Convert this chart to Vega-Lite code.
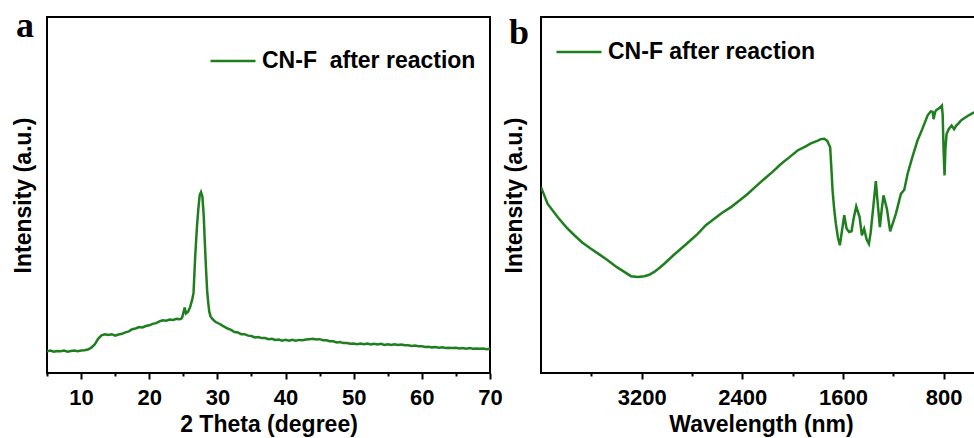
{
  "$schema": "https://vega.github.io/schema/vega-lite/v6.json",
  "background": "white",
  "padding": {"left": 11, "top": 7, "right": 0, "bottom": 0},
  "spacing": 51,
  "bounds": "flush",
  "config": {
    "view": {"stroke": "black", "strokeWidth": 2},
    "font": "Liberation Sans",
    "axis": {
      "domain": false, "grid": false,
      "tickColor": "black", "tickWidth": 2,
      "labelFont": "Liberation Sans", "labelFontWeight": "bold", "labelFontSize": 22, "labelColor": "black",
      "titleFont": "Liberation Sans", "titleFontWeight": "bold", "titleFontSize": 23, "titleColor": "black"
    },
    "legend": {
      "labelFont": "Liberation Sans", "labelFontWeight": "bold", "labelFontSize": 23, "labelColor": "black",
      "symbolType": "stroke", "symbolSize": 2025, "symbolStrokeWidth": 2.5, "labelOffset": 5, "padding": 0, "labelLimit": 400, "title": null
    }
  },
  "resolve": {"scale": {"color": "independent"}, "legend": {"color": "independent"}},
  "hconcat": [
    {
      "width": 443, "height": 356,
      "encoding": {
        "x": {"field": "t", "type": "quantitative", "scale": {"domain": [5, 70], "nice": false, "zero": false},
          "axis": {"title": "2 Theta (degree)", "values": [5,10,15,20,25,30,35,40,45,50,55,60,65,70], "format": "d",
            "labelExpr": "datum.value % 10 === 0 ? datum.label : ''",
            "tickSize": {"condition": {"test": "datum.value % 10 === 0", "value": 6}, "value": 3},
            "labelPadding": 8, "titlePadding": 5, "labelOverlap": false, "labelFlush": false}},
        "y": {"field": "i", "type": "quantitative", "scale": {"domain": [0, 100], "nice": false},
          "axis": {"title": "Intensity (a.u.)", "labels": false, "ticks": false, "titlePadding": 12}}
      },
      "layer": [
        {
          "data": {"values": [
            {"t":5,"i":6.1},{"t":5.5,"i":6.3},{"t":6,"i":6.0},{"t":6.5,"i":6.2},{"t":7,"i":6.1},{"t":7.5,"i":6.3},{"t":8,"i":6.0},{"t":8.5,"i":6.2},{"t":9,"i":6.3},{"t":9.5,"i":6.1},
            {"t":10,"i":6.3},{"t":10.5,"i":6.4},{"t":11,"i":6.6},{"t":11.5,"i":7.1},{"t":12,"i":8.0},{"t":12.5,"i":9.6},{"t":13,"i":10.6},{"t":13.5,"i":10.9},{"t":14,"i":10.7},{"t":14.5,"i":10.9},
            {"t":15,"i":10.5},{"t":15.5,"i":10.8},{"t":16,"i":11.0},{"t":16.5,"i":11.4},{"t":17,"i":11.7},{"t":17.5,"i":12.3},{"t":18,"i":12.5},{"t":18.5,"i":12.9},{"t":19,"i":12.8},{"t":19.5,"i":13.2},
            {"t":20,"i":13.4},{"t":20.5,"i":13.8},{"t":21,"i":14.0},{"t":21.5,"i":14.5},{"t":22,"i":14.8},{"t":22.5,"i":14.7},{"t":23,"i":15.0},{"t":23.5,"i":14.9},{"t":24,"i":15.2},{"t":24.5,"i":15.1},
            {"t":24.8,"i":15.4},{"t":25.0,"i":16.8},{"t":25.2,"i":18.4},{"t":25.4,"i":16.7},{"t":25.7,"i":17.2},{"t":26.0,"i":18.5},{"t":26.3,"i":20.6},{"t":26.5,"i":22.5},{"t":26.75,"i":33},{"t":27.0,"i":41},
            {"t":27.2,"i":46},{"t":27.4,"i":49.9},{"t":27.6,"i":50.8},{"t":27.8,"i":49.6},{"t":28.0,"i":44},{"t":28.15,"i":37},{"t":28.33,"i":29.3},{"t":28.5,"i":23},{"t":28.65,"i":19.9},{"t":28.8,"i":17.3},
            {"t":29.0,"i":15.9},{"t":29.3,"i":15.1},{"t":29.7,"i":14.4},{"t":30.2,"i":13.9},{"t":30.5,"i":13.6},{"t":31,"i":13.0},{"t":31.5,"i":12.5},{"t":32,"i":12.1},{"t":32.5,"i":11.5},{"t":33,"i":11.4},
            {"t":33.5,"i":10.9},{"t":34,"i":10.9},{"t":34.5,"i":10.5},{"t":35,"i":10.4},{"t":35.5,"i":10.0},{"t":36,"i":10.1},{"t":36.5,"i":9.8},{"t":37,"i":9.8},{"t":37.5,"i":9.5},{"t":38,"i":9.6},
            {"t":38.5,"i":9.3},{"t":39,"i":9.4},{"t":39.5,"i":9.1},{"t":40,"i":9.3},{"t":40.5,"i":9.1},{"t":41,"i":9.3},{"t":41.5,"i":9.1},{"t":42,"i":9.3},{"t":42.5,"i":9.2},{"t":43,"i":9.4},
            {"t":43.5,"i":9.5},{"t":44,"i":9.6},{"t":44.5,"i":9.4},{"t":45,"i":9.5},{"t":45.5,"i":9.2},{"t":46,"i":9.2},{"t":46.5,"i":8.9},{"t":47,"i":8.9},{"t":47.5,"i":8.6},{"t":48,"i":8.7},
            {"t":48.5,"i":8.4},{"t":49,"i":8.4},{"t":49.5,"i":8.2},{"t":50,"i":8.3},{"t":50.5,"i":8.1},{"t":51,"i":8.3},{"t":51.5,"i":8.1},{"t":52,"i":8.3},{"t":52.5,"i":8.0},{"t":53,"i":8.2},
            {"t":53.5,"i":8.0},{"t":54,"i":8.2},{"t":54.5,"i":7.9},{"t":55,"i":8.1},{"t":55.5,"i":7.9},{"t":56,"i":8.1},{"t":56.5,"i":7.9},{"t":57,"i":8.0},{"t":57.5,"i":7.8},{"t":58,"i":7.8},
            {"t":58.5,"i":7.6},{"t":59,"i":7.7},{"t":59.5,"i":7.5},{"t":60,"i":7.5},{"t":60.5,"i":7.3},{"t":61,"i":7.4},{"t":61.5,"i":7.2},{"t":62,"i":7.3},{"t":62.5,"i":7.1},{"t":63,"i":7.2},
            {"t":63.5,"i":7.0},{"t":64,"i":7.1},{"t":64.5,"i":7.0},{"t":65,"i":7.1},{"t":65.5,"i":6.9},{"t":66,"i":7.0},{"t":66.5,"i":6.8},{"t":67,"i":7.0},{"t":67.5,"i":6.8},{"t":68,"i":6.9},
            {"t":68.5,"i":6.8},{"t":69,"i":6.9},{"t":69.5,"i":6.7},{"t":70,"i":6.8}
          ]},
          "mark": {"type": "line", "strokeWidth": 2.5, "clip": true},
          "encoding": {
            "color": {"datum": "CN-F\u00a0 after reaction", "type": "nominal", "scale": {"range": ["#1f7f1f"]},
              "legend": {"orient": "none", "legendX": 162, "legendY": 20}}
          }
        },
        {
          "data": {"values": [{"tag": "a", "t": 5, "i": 100}]},
          "mark": {"type": "text", "font": "Liberation Serif", "fontSize": 36, "fontWeight": "bold", "color": "black", "align": "left", "baseline": "alphabetic", "clip": false, "dx": -31, "dy": 20},
          "encoding": {"text": {"field": "tag"}}
        }
      ]
    },
    {
      "width": 453, "height": 356,
      "encoding": {
        "x": {"field": "w", "type": "quantitative", "scale": {"domain": [400, 4000], "reverse": true, "nice": false, "zero": false},
          "axis": {"title": "Wavelength (nm)", "values": [3600,3200,2800,2400,2000,1600,1200,800,400], "format": "d",
            "labelExpr": "datum.value % 800 === 0 ? datum.label : ''",
            "tickSize": {"condition": {"test": "datum.value % 800 === 0", "value": 6}, "value": 3},
            "labelPadding": 8, "titlePadding": 5, "labelOverlap": false, "labelFlush": false, "titleX": 220}},
        "y": {"field": "v", "type": "quantitative", "scale": {"domain": [0, 100], "nice": false},
          "axis": {"title": "Intensity (a.u.)", "labels": false, "ticks": false, "titlePadding": 15}}
      },
      "layer": [
        {
          "data": {"values": [
            {"w":4000,"v":52.2},{"w":3947,"v":47.5},{"w":3868,"v":43.8},{"w":3800,"v":41.0},{"w":3735,"v":38.7},{"w":3670,"v":36.6},{"w":3603,"v":34.9},{"w":3540,"v":33.4},{"w":3470,"v":31.7},{"w":3400,"v":29.8},
            {"w":3338,"v":28.4},{"w":3285,"v":27.2},{"w":3230,"v":27.0},{"w":3179,"v":27.2},{"w":3140,"v":27.6},{"w":3100,"v":28.4},{"w":3060,"v":29.5},{"w":3020,"v":30.7},{"w":2950,"v":33.0},{"w":2888,"v":34.9},
            {"w":2820,"v":37.0},{"w":2755,"v":39.1},{"w":2690,"v":41.5},{"w":2623,"v":43.3},{"w":2560,"v":45.0},{"w":2490,"v":46.6},{"w":2420,"v":48.5},{"w":2358,"v":50.3},{"w":2290,"v":52.5},{"w":2226,"v":54.5},
            {"w":2160,"v":56.5},{"w":2093,"v":58.7},{"w":2030,"v":60.5},{"w":1961,"v":62.5},{"w":1900,"v":63.6},{"w":1855,"v":64.5},{"w":1800,"v":65.3},{"w":1776,"v":65.7},{"w":1749,"v":65.8},{"w":1725,"v":65.2},
            {"w":1702,"v":63.4},{"w":1690,"v":56.0},{"w":1683,"v":51.3},{"w":1670,"v":46.0},{"w":1657,"v":42.0},{"w":1640,"v":38.0},{"w":1625,"v":35.9},{"w":1610,"v":39.5},{"w":1590,"v":44.3},{"w":1572,"v":40.6},
            {"w":1551,"v":39.6},{"w":1532,"v":39.8},{"w":1515,"v":43.5},{"w":1495,"v":46.8},{"w":1468,"v":43.8},{"w":1450,"v":38.7},{"w":1432,"v":40.5},{"w":1412,"v":37.5},{"w":1394,"v":36.3},{"w":1380,"v":39.5},
            {"w":1365,"v":44.7},{"w":1350,"v":50.0},{"w":1339,"v":53.9},{"w":1325,"v":48.0},{"w":1307,"v":41.0},{"w":1292,"v":46.0},{"w":1278,"v":49.9},{"w":1251,"v":46.1},{"w":1225,"v":39.8},{"w":1200,"v":42.5},
            {"w":1180,"v":44.7},{"w":1160,"v":47.5},{"w":1140,"v":50.3},{"w":1113,"v":51.5},{"w":1087,"v":55.9},{"w":1050,"v":60.5},{"w":1008,"v":65.3},{"w":970,"v":68.5},{"w":928,"v":72.3},{"w":902,"v":73.5},
            {"w":888,"v":73.4},{"w":880,"v":71.3},{"w":870,"v":73.0},{"w":862,"v":73.7},{"w":840,"v":74.3},{"w":822,"v":74.8},{"w":814,"v":75.1},{"w":808,"v":72.5},{"w":800,"v":62.0},{"w":793,"v":55.5},
            {"w":786,"v":63.0},{"w":777,"v":67.1},{"w":760,"v":68.5},{"w":737,"v":69.5},{"w":717,"v":68.5},{"w":700,"v":69.5},{"w":680,"v":70.2},{"w":664,"v":70.9},{"w":640,"v":71.5},{"w":610,"v":72.2},
            {"w":580,"v":72.8},{"w":558,"v":73.2},{"w":520,"v":73.6},{"w":480,"v":74.0},{"w":440,"v":74.3},{"w":400,"v":74.6}
          ]},
          "mark": {"type": "line", "strokeWidth": 2.5, "clip": true},
          "encoding": {
            "color": {"datum": "CN-F after reaction", "type": "nominal", "scale": {"range": ["#1f7f1f"]},
              "legend": {"orient": "none", "legendX": 14, "legendY": 11}}
          }
        },
        {
          "data": {"values": [{"tag": "b", "w": 4000, "v": 100}]},
          "mark": {"type": "text", "font": "Liberation Serif", "fontSize": 36, "fontWeight": "bold", "color": "black", "align": "left", "baseline": "alphabetic", "clip": false, "dx": -32, "dy": 27},
          "encoding": {"text": {"field": "tag"}}
        }
      ]
    }
  ]
}
